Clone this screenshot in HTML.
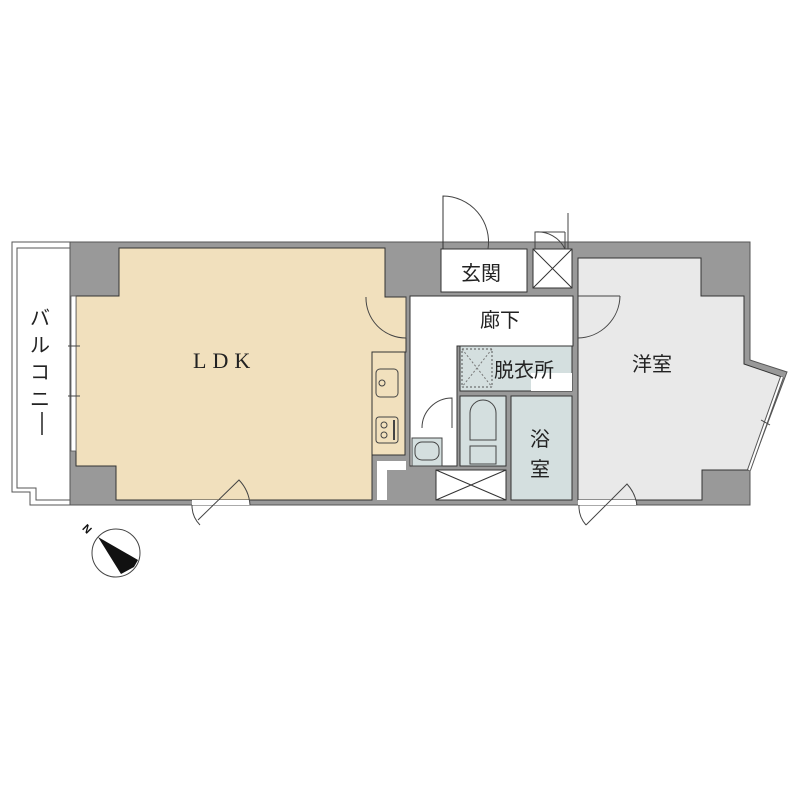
<!DOCTYPE html>
<html><head><meta charset="utf-8"><style>html,body{margin:0;padding:0;background:#fff}svg{display:block}</style></head>
<body>
<svg width="800" height="800" viewBox="0 0 800 800" xmlns="http://www.w3.org/2000/svg" font-family="'Liberation Sans','Noto Sans CJK JP',sans-serif">
<path d="M12,242 H70 V505 H30 V492 H12 Z" fill="#fff" stroke="#555" stroke-width="1"/>
<path d="M17,248 H70 V500 H36 V488 H17 Z" fill="#fff" stroke="#555" stroke-width="1"/>
<path d="M70,242 H750 V360 L787,372 L750,470 V505 H70 Z" fill="#999" stroke="#555" stroke-width="1"/>
<path d="M119,248 H385 V297 H406 V352 H405 V455 H372 V500 H116 V466 H76 V296 H119 Z" fill="#f1e0bd" stroke="#333" stroke-width="1"/>
<rect x="372" y="352" width="33" height="103" fill="#f1e0bd" stroke="#333"/>
<rect x="376" y="369" width="22" height="28" rx="4" fill="none" stroke="#444"/>
<circle cx="382" cy="383" r="3" fill="none" stroke="#444"/>
<rect x="376" y="417" width="22" height="26" rx="3" fill="none" stroke="#444"/>
<circle cx="384" cy="425" r="3" fill="none" stroke="#444"/><circle cx="384" cy="435" r="3" fill="none" stroke="#444"/>
<line x1="394" y1="420" x2="394" y2="440" stroke="#444" stroke-width="2"/>
<rect x="377" y="461" width="29" height="9" fill="#fff"/>
<rect x="377" y="461" width="10" height="39" fill="#fff"/>
<rect x="71" y="296" width="5" height="155" fill="#fff" stroke="#555" stroke-width="0.8"/>
<line x1="68" y1="346" x2="80" y2="346" stroke="#444"/><line x1="68" y1="396" x2="80" y2="396" stroke="#444"/>
<path d="M410,296 H573 V346 H457 V466 H410 Z" fill="#fff" stroke="#333"/>
<rect x="441" y="249" width="86" height="43" fill="#fff" stroke="#333"/>
<rect x="533" y="249" width="39" height="39" fill="#fff" stroke="#333"/>
<path d="M533,249 L572,288 M572,249 L533,288" stroke="#333"/>
<path d="M443,249 V196 A46,46 0 0 1 488,249" fill="none" stroke="#444"/>
<line x1="443" y1="196" x2="443" y2="249" stroke="#333"/>
<path d="M535,249 V232 A30,30 0 0 1 565,249 M565,232 V249 M568,213 V249 M535,232 H565" fill="none" stroke="#444"/>
<path d="M366,297 A40,40 0 0 0 406,338" fill="none" stroke="#444"/>
<line x1="406" y1="297" x2="406" y2="338" stroke="#444"/>
<rect x="460" y="346" width="112" height="45" fill="#d4dfdf" stroke="#333"/>
<rect x="462" y="349" width="30" height="38" fill="none" stroke="#555" stroke-dasharray="2,2"/>
<path d="M462,349 L492,387 M492,349 L462,387" stroke="#777" stroke-dasharray="2,2"/>
<rect x="531" y="373" width="41" height="18" fill="#fff"/>
<rect x="460" y="396" width="46" height="70" fill="#d4dfdf" stroke="#333"/>
<path d="M470,440 V413 A13,13 0 0 1 496,413 V440 Z" fill="none" stroke="#444"/>
<rect x="470" y="446" width="26" height="18" fill="none" stroke="#444"/>
<path d="M422,428 A30,30 0 0 1 452,398 V428" fill="none" stroke="#444"/>
<rect x="412" y="438" width="30" height="28" fill="#d4dfdf" stroke="#444"/>
<rect x="415" y="442" width="24" height="18" rx="7" fill="none" stroke="#444"/>
<rect x="511" y="396" width="61" height="104" fill="#d4dfdf" stroke="#333"/>
<rect x="436" y="470" width="70" height="30" fill="#fff" stroke="#333"/>
<path d="M436,470 L506,500 M506,470 L436,500" stroke="#333"/>
<path d="M578,258 H701 V296 H744 V364 L782,377 L749,470 H702 V500 H578 Z" fill="#e9e9e9" stroke="#333"/>
<line x1="782" y1="377" x2="749" y2="470" stroke="#555" stroke-width="4"/>
<line x1="782" y1="377" x2="749" y2="470" stroke="#fff" stroke-width="2"/>
<line x1="761" y1="420" x2="770" y2="425" stroke="#444"/>
<path d="M578,338 A43,43 0 0 0 620,296" fill="none" stroke="#444"/>
<line x1="578" y1="296" x2="620" y2="296" stroke="#444"/>
<rect x="192" y="500" width="58" height="5" fill="#fff"/>
<path d="M198,520 L239,480 A40,40 0 0 1 250,505 M192,505 A28,28 0 0 0 200,525" fill="none" stroke="#444"/>
<rect x="578" y="500" width="58" height="5" fill="#fff"/>
<path d="M586,525 L627,484 A40,40 0 0 1 637,505 M579,505 A28,28 0 0 0 586,525" fill="none" stroke="#444"/>
<text x="193" y="368" font-family="'Liberation Serif',serif" font-size="22" letter-spacing="6" fill="#222">LDK</text>
<text x="461" y="280" font-size="20" fill="#222">玄関</text>
<text x="480" y="327" font-size="20" fill="#222">廊下</text>
<text x="494" y="377" font-size="20" fill="#222">脱衣所</text>
<text x="530" y="446" font-size="20" fill="#222">浴</text>
<text x="530" y="476" font-size="20" fill="#222">室</text>
<text x="632" y="371" font-size="20" fill="#222">洋室</text>
<text x="30" y="325" font-size="20" fill="#222">バ</text>
<text x="30" y="352" font-size="20" fill="#222">ル</text>
<text x="30" y="379" font-size="20" fill="#222">コ</text>
<text x="30" y="406" font-size="20" fill="#222">ニ</text>
<line x1="42" y1="412" x2="42" y2="435" stroke="#222" stroke-width="1.5"/>
<circle cx="116" cy="553" r="24" fill="#fff" stroke="#444"/>
<path d="M98,537 L138,560 L134,567 L121,574 Z" fill="#111"/>
<text x="84" y="533" font-size="11" font-weight="bold" fill="#111" transform="rotate(45 88 528)">N</text>
</svg>
</body></html>
